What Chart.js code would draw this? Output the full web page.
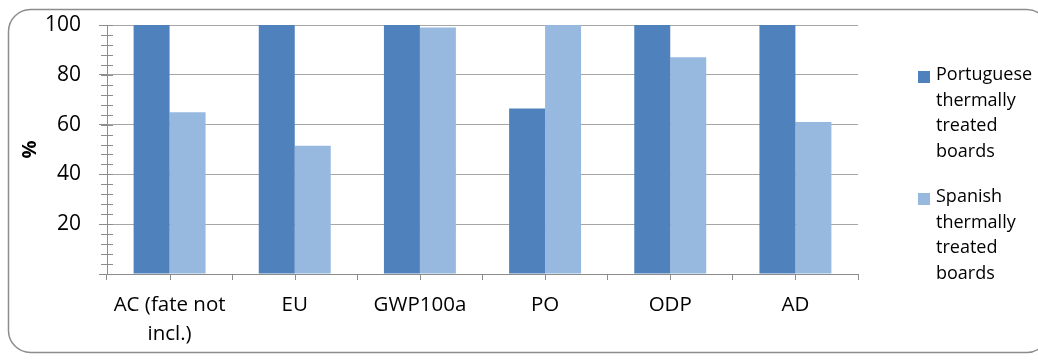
<!DOCTYPE html>
<html>
<head>
<meta charset="utf-8">
<script src="https://cdn.jsdelivr.net/npm/chart.js@4/dist/chart.umd.min.js"></script>
<style>
  html, body { margin: 0; padding: 0; background: #fff; }
  #wrap { width: 1038px; height: 360px; }
</style>
</head>
<body>
<div id="wrap"><canvas id="myChart" width="1038" height="360"></canvas></div>
<script>
var ctx = document.getElementById("myChart");

// data
const categories = [["AC (fate not", "incl.)"], "EU", "GWP100a", "PO", "ODP", "AD"];
const portuguese = [100, 100, 100, 66.5, 100, 100];
const spanish = [65, 51.5, 99, 100, 87, 61];
const seriesNames = ["Portuguese thermally treated boards", "Spanish thermally treated boards"];
const seriesColors = ["#4f81bd", "#97b9e0"];
const yTicks = [20, 40, 60, 80, 100];

const font = "'Open Sans', 'DejaVu Sans', sans-serif";

// frame, minor ticks and the wrapped legend
const extras = {
	id: 'extras',
	beforeDraw(chart) {
		const c = chart.ctx;
		c.save();
		c.strokeStyle = '#8c8c8c';
		c.lineWidth = 1.5;
		c.beginPath();
		c.roundRect(8.5, 9.5, 1040, 343, 22);
		c.stroke();
		c.restore();
	},
	afterDraw(chart) {
		const c = chart.ctx;
		const y = chart.scales.y, x = chart.scales.x;
		c.save();
		c.strokeStyle = '#8c8c8c';
		c.lineWidth = 1;
		// minor ticks on the value axis
		for (let v = 0; v <= 100; v += 4) {
			const py = Math.round(y.getPixelForValue(v)) + 0.5;
			c.beginPath();
			c.moveTo(x.left - 6, py);
			c.lineTo(x.left + 6, py);
			c.stroke();
		}
		// ticks at category centres
		for (let i = 0; i < categories.length; i++) {
			const px = Math.round(x.getPixelForValue(i)) + 0.5;
			c.beginPath();
			c.moveTo(px, y.bottom);
			c.lineTo(px, y.bottom + 6);
			c.stroke();
		}
		// legend with one word per line
		c.font = "18px " + font;
		c.textBaseline = 'top';
		let top = 66;
		chart.data.datasets.forEach(function(ds) {
			c.fillStyle = ds.backgroundColor;
			c.fillRect(918, top + 5, 12, 12);
			c.fillStyle = '#000';
			ds.label.split(' ').forEach(function(w, k) {
				c.fillText(w, 936, top + k * 25.5);
			});
			top += 122;
		});
		c.restore();
	}
};

const objToChar = {
	type: 'bar',
	data: {
		labels: categories,
		datasets: [
			{ label: seriesNames[0], data: portuguese, backgroundColor: seriesColors[0] },
			{ label: seriesNames[1], data: spanish, backgroundColor: seriesColors[1] }
		]
	},
	options: {
		responsive: false,
		animation: false,
		layout: { padding: { left: 0, right: 180, top: 25, bottom: 0 } },
		datasets: { bar: { categoryPercentage: 0.575, barPercentage: 1 } },
		plugins: { legend: { display: false }, tooltip: { enabled: false } },
		scales: {
			x: {
				offset: true,
				grid: { offset: true, drawOnChartArea: false, tickLength: 6, color: '#8c8c8c' },
				border: { color: '#8c8c8c' },
				ticks: { color: '#000', font: { family: font, size: 20.5, lineHeight: 1.4 }, padding: 11, maxRotation: 0, autoSkip: false },
				afterFit(s) { s.height = 86; s.paddingLeft = 0; s.paddingRight = 0; }
			},
			y: {
				min: 0, max: 100,
				afterBuildTicks(s) { s.ticks = [0].concat(yTicks).map(v => ({ value: v })); },
				grid: { color: '#a6a6a6', tickLength: 8, tickColor: '#8c8c8c' },
				border: { color: '#8c8c8c' },
				ticks: { color: '#000', font: { family: font, size: 21 }, padding: 18, callback: v => v === 0 ? '' : v },
				title: { display: true, text: '%', color: '#000', font: { family: font, size: 20, weight: 'bold' }, padding: { top: 18 } },
				afterFit(s) { s.width = 107; s.paddingTop = 0; s.paddingBottom = 0; }
			}
		}
	},
	plugins: [extras]
};

var myChart = new Chart(ctx, objToChar);
</script>
</body>
</html>
